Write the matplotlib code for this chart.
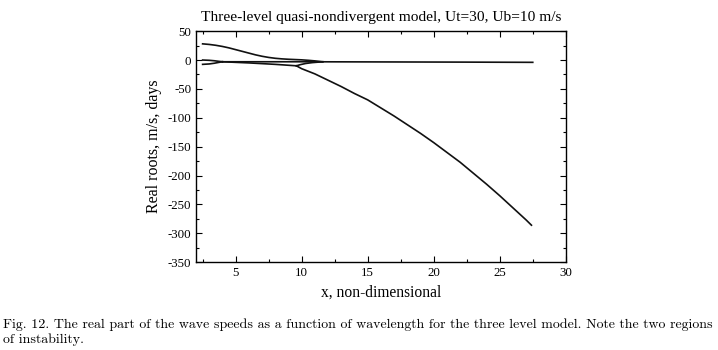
import matplotlib.pyplot as plt
from matplotlib.ticker import MultipleLocator

plt.rcParams['axes.unicode_minus'] = False

# upper branch, from +28 down into the -3 line
upper_x = [2.5, 3.0, 3.5, 4.0, 4.5, 5.0, 5.5, 6.0, 6.5, 7.0, 7.5, 8.0, 8.5,
           9.0, 9.5, 10.0, 10.5, 11.0, 11.6]
upper_y = [28, 27, 25.5, 23.5, 21, 18, 15, 12, 9, 6.5, 4.5, 3, 2,
           1.3, 0.8, 0.3, -0.5, -1.5, -3]

# two short roots near zero that merge around x=4
zero_x = [2.5, 3.0, 3.4, 3.7, 4.0]
zero_y = [0, -0.5, -1.3, -2.2, -3]
low_x = [2.5, 3.0, 3.4, 3.7, 4.0]
low_y = [-7.5, -6.8, -5.5, -4.2, -3]

# nearly flat line
flat_x = [4.0, 10, 16, 22, 27.5]
flat_y = [-3, -3, -3.3, -3.6, -4]

# slowly descending middle root
mid_x = [4.0, 6.0, 8.0, 9.6]
mid_y = [-3, -5, -7.5, -10]

# hook back up into the flat line
hook_x = [9.6, 9.9, 10.3, 10.8, 11.6]
hook_y = [-10, -8, -6, -4.5, -3]

# long descending root
main_x = [9.6, 10, 11, 12, 13, 14, 15, 16, 17, 18, 19, 20, 21, 22, 23, 24,
          25, 26, 27, 27.4]
main_y = [-10, -15, -24, -35, -46, -58, -69, -83, -97, -112, -127, -143,
          -160, -177, -196, -215, -235, -256, -277, -286]

fig = plt.figure(figsize=(7.18, 3.5), dpi=100)
ax = fig.add_axes([0.273, 0.251, 0.515, 0.660])

for xs, ys in [(upper_x, upper_y), (zero_x, zero_y), (low_x, low_y),
               (flat_x, flat_y), (mid_x, mid_y), (hook_x, hook_y),
               (main_x, main_y)]:
    ax.plot(xs, ys, color='#111111', linewidth=1.2)

ax.set_xlim(2, 30)
ax.set_ylim(-350, 50)
ax.xaxis.set_major_locator(MultipleLocator(5))
ax.xaxis.set_minor_locator(MultipleLocator(2.5))
ax.yaxis.set_major_locator(MultipleLocator(50))
ax.yaxis.set_minor_locator(MultipleLocator(25))
ax.tick_params(which='both', direction='in', top=True, right=True,
               labelsize=9.3, width=0.8)
ax.tick_params(which='major', length=4)
ax.tick_params(which='minor', length=2)
for lab in ax.get_xticklabels() + ax.get_yticklabels():
    lab.set_family('Liberation Serif')
for s in ax.spines.values():
    s.set_linewidth(1.0)

ax.set_title('Three-level quasi-nondivergent model, Ut=30, Ub=10 m/s',
             family='Liberation Serif', fontsize=11.1, pad=7)
ax.set_xlabel('x, non-dimensional', family='Liberation Serif', fontsize=11.2)
ax.set_ylabel('Real roots, m/s, days', family='Liberation Serif', fontsize=11.5)

fig.text(0.004, 0.072, 'Fig. 12. The real part of the wave speeds as a function of '
         'wavelength for the three level model. Note the two regions',
         family='cmr10', fontsize=10.0, va='center')
fig.text(0.004, 0.030, 'of instability.', family='cmr10', fontsize=10.0, va='center')

fig.savefig('out.png', dpi=100)
